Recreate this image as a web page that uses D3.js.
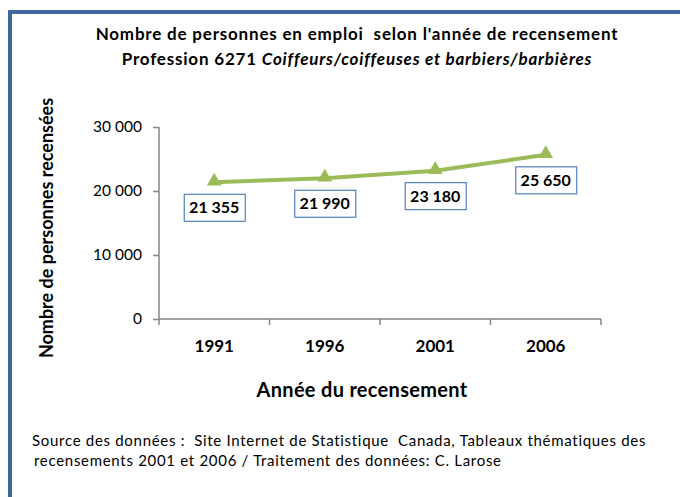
<!DOCTYPE html>
<html lang="fr">
<head>
  <meta charset="utf-8">
  <title>Coiffeurs/coiffeuses et barbiers/barbières</title>
  <script src="https://cdn.jsdelivr.net/npm/d3@7"></script>
  <style>
    body { margin: 0; background: #fff; }
    svg text { font-family: Lato, "Open Sans", sans-serif; white-space: pre; }
  </style>
</head>
<body>
  <div id="chart"></div>
  <script>
    var years = ["1991", "1996", "2001", "2006"];
    var counts = [21355, 21990, 23180, 25650];
    var yTicks = [0, 10000, 20000, 30000];

    var w = 680, h = 497;
    var plotL = 159, plotR = 601, plotT = 127, plotB = 319;

    var svg = d3.select("#chart").append("svg")
      .attr("width", w)
      .attr("height", h);

    // frame
    svg.append("path")
      .attr("d", "M10,497 V12 H680")
      .attr("fill", "none")
      .attr("stroke", "#3e679c")
      .attr("stroke-width", 4);

    var x = d3.scaleBand().domain(years).range([plotL, plotR]);
    var y = d3.scaleLinear().domain([0, 30000]).range([plotB, plotT]);

    var fmt = function(v) { return d3.format(",")(v).replace(/,/g, " "); };

    // y axis
    var yAxis = svg.append("g")
      .attr("transform", "translate(" + plotL + ",0)")
      .call(d3.axisLeft(y).tickValues(yTicks).tickSize(6).tickPadding(11).tickFormat(fmt));
    yAxis.selectAll("line, path").attr("stroke", "#868686").attr("stroke-width", 1.5);
    yAxis.select(".domain").attr("d", "M0," + plotT + "V" + plotB);
    yAxis.selectAll("text").attr("font-size", 15.5).attr("fill", "#000")
      .style("font-family", "Lato, sans-serif");

    // x axis
    var xAxis = svg.append("g")
      .attr("transform", "translate(0," + plotB + ")")
      .call(d3.axisBottom(x).tickSize(0).tickPadding(21));
    xAxis.select(".domain").attr("stroke", "#868686").attr("stroke-width", 1.5)
      .attr("d", "M" + plotL + ",0H" + plotR);
    xAxis.selectAll("text").attr("font-size", 17).attr("font-weight", "bold").attr("fill", "#000")
      .style("font-family", "Lato, sans-serif");
    xAxis.selectAll(".sep")
      .data(years.concat(["end"]))
      .enter().append("line")
      .attr("x1", function(d, i) { return plotL + i * x.step(); })
      .attr("x2", function(d, i) { return plotL + i * x.step(); })
      .attr("y1", 0).attr("y2", 6)
      .attr("stroke", "#868686").attr("stroke-width", 1.5);

    var cx = function(d, i) { return x(years[i]) + x.bandwidth() / 2; };

    // line
    var line = d3.line()
      .x(function(d, i) { return cx(d, i); })
      .y(function(d) { return y(d); });
    svg.append("path")
      .datum(counts)
      .attr("d", line)
      .attr("fill", "none")
      .attr("stroke", "#9bbb59")
      .attr("stroke-width", 4);

    svg.selectAll(".marker")
      .data(counts)
      .enter().append("path")
      .attr("class", "marker")
      .attr("d", d3.symbol().type(d3.symbolTriangle).size(95))
      .attr("transform", function(d, i) { return "translate(" + cx(d, i) + "," + (y(d) - 1) + ")"; })
      .attr("fill", "#9bbb59");

    // labels
    var lbl = svg.selectAll(".lbl")
      .data(counts)
      .enter().append("g")
      .attr("transform", function(d, i) { return "translate(" + cx(d, i) + "," + (y(d) + 12) + ")"; });
    lbl.append("rect")
      .attr("x", -30).attr("y", 0)
      .attr("width", 61).attr("height", 27)
      .attr("fill", "#fff")
      .attr("stroke", "#4f81bd")
      .attr("stroke-width", 1.2);
    lbl.append("text")
      .attr("x", 0).attr("y", 19)
      .attr("text-anchor", "middle")
      .attr("font-size", 16)
      .attr("font-weight", "bold")
      .text(fmt);

    // titles
    var title = svg.append("text")
      .attr("text-anchor", "middle")
      .attr("font-size", 17)
      .attr("letter-spacing", 0.8)
      .attr("font-weight", "bold");
    title.append("tspan").attr("x", 357).attr("y", 40)
      .text("Nombre de personnes en emploi  selon l'année de recensement");
    var t2 = title.append("tspan").attr("x", 357).attr("y", 65);
    t2.append("tspan").text("Profession 6271 ");
    t2.append("tspan").attr("font-style", "italic").text("Coiffeurs/coiffeuses et barbiers/barbières");

    svg.append("text")
      .attr("x", 362).attr("y", 397)
      .attr("text-anchor", "middle")
      .attr("font-size", 20)
      .attr("letter-spacing", 0.3)
      .attr("font-weight", "bold")
      .text("Année du recensement");

    svg.append("text")
      .attr("transform", "translate(53,228) rotate(-90)")
      .attr("text-anchor", "middle")
      .attr("font-size", 18)
      .attr("font-weight", "bold")
      .text("Nombre de personnes recensées");

    // source
    var src = svg.append("text").attr("font-size", 15).attr("letter-spacing", 0.7);
    src.append("tspan").attr("x", 32).attr("y", 446)
      .text("Source des données :  Site Internet de Statistique  Canada, Tableaux thématiques des");
    src.append("tspan").attr("x", 34).attr("y", 466)
      .text("recensements 2001 et 2006 / Traitement des données: C. Larose");
  </script>
</body>
</html>
